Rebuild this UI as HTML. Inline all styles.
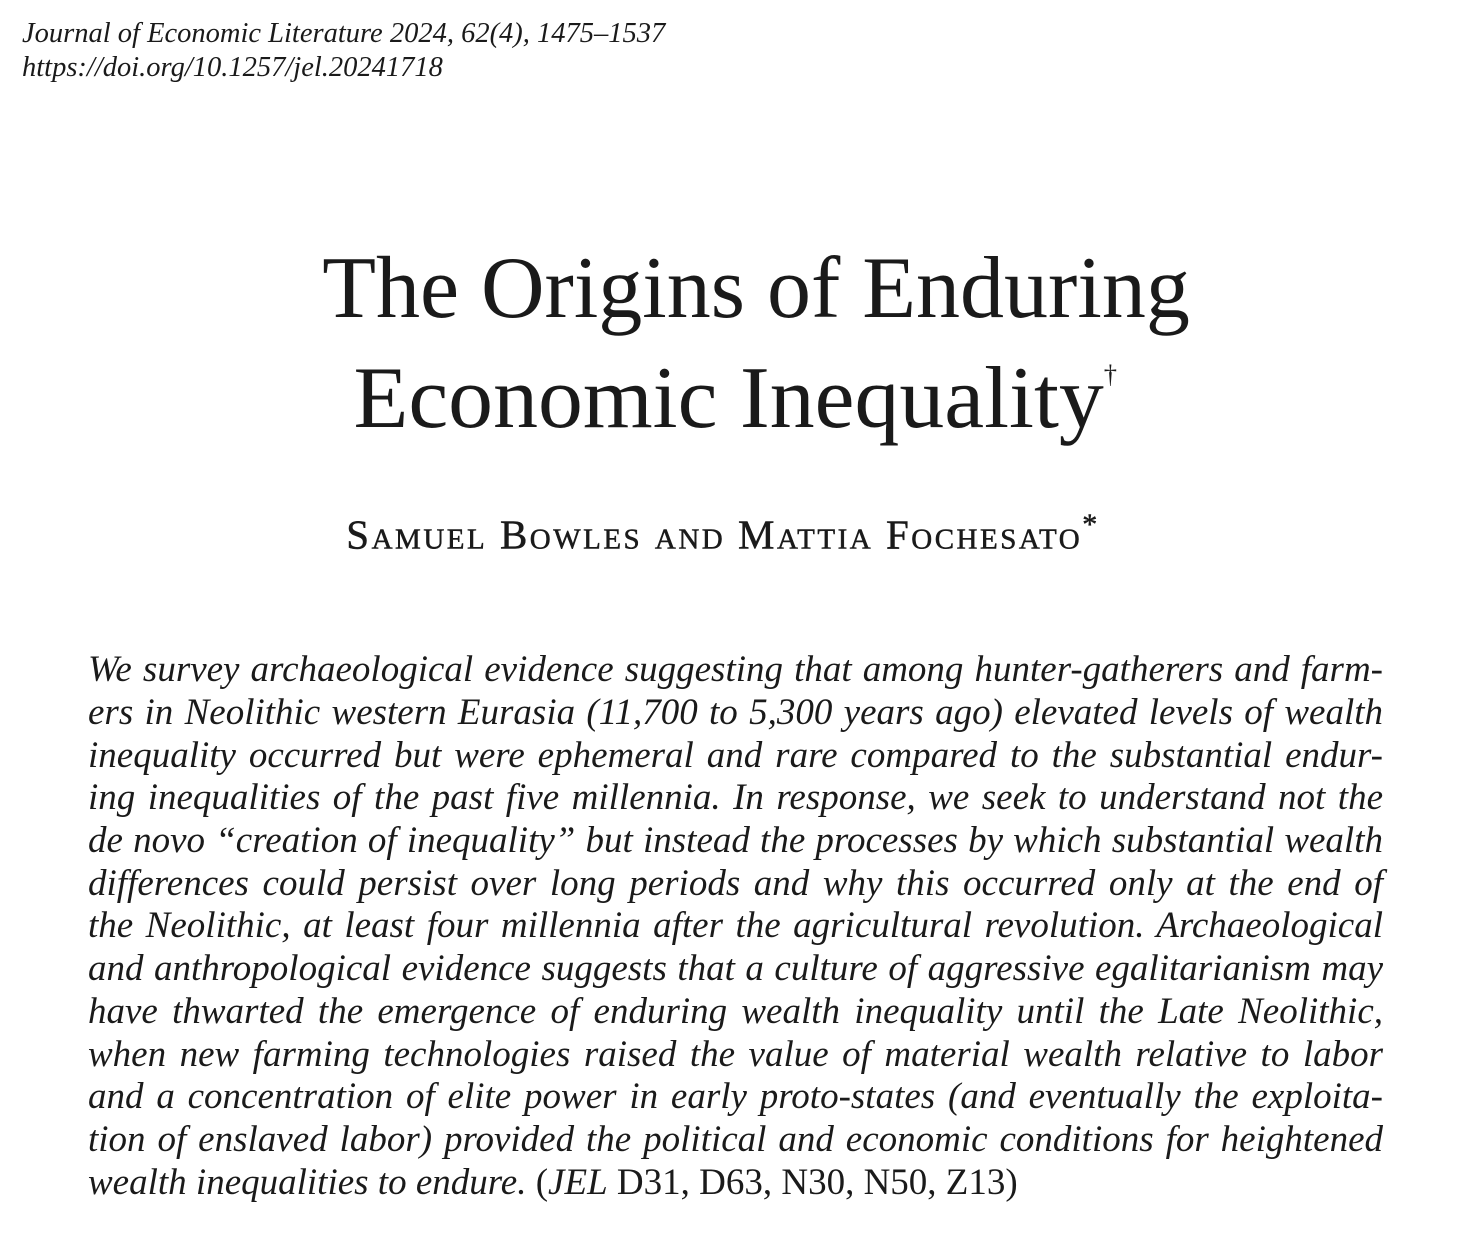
<!DOCTYPE html>
<html><head><meta charset="utf-8">
<style>
html,body{margin:0;padding:0;background:#fff;}
body{width:1470px;height:1234px;position:relative;overflow:hidden;color:#1a1a1a;font-family:"Liberation Serif",serif;}
.hdr{position:absolute;left:22px;font-style:italic;font-size:28.5px;line-height:32px;white-space:nowrap;}
.title{position:absolute;left:0;width:1470px;text-align:center;font-size:88px;line-height:90px;white-space:nowrap;}
.title span{display:inline-block;transform-origin:center;}
.auth{position:absolute;left:0;width:1446px;padding-left:0;text-align:center;font-size:41px;font-variant:small-caps;letter-spacing:2.5px;white-space:nowrap;-webkit-text-stroke:0.5px #1a1a1a;}
.ab{position:absolute;left:88px;width:1295px;font-style:italic;font-size:37px;line-height:42px;text-align:justify;text-align-last:justify;white-space:nowrap;}
.ab.last{text-align-last:left;}
.up{font-style:normal;}
</style></head><body>
<div class="hdr" style="top:18px">Journal of Economic Literature 2024, 62(4), 1475–1537</div>
<div class="hdr" style="top:52px">https://doi.org/10.1257/jel.20241718</div>

<div class="title" style="top:244px;left:21px"><span style="transform:scaleX(1.0)">The Origins of Enduring</span></div>
<div class="title" style="top:330px"><span style="transform:scaleX(1.02)">Economic Inequality<sup style="font-size:26px;vertical-align:44px">†</sup></span></div>

<div class="auth" style="top:508px">Samuel Bowles and Mattia Fochesato<sup style="font-size:30px">*</sup></div>

<div>
<div class="ab" style="top:649px">We survey archaeological evidence suggesting that among hunter-gatherers and farm-</div>
<div class="ab" style="top:692px">ers in Neolithic western Eurasia (11,700 to 5,300 years ago) elevated levels of wealth</div>
<div class="ab" style="top:735px">inequality occurred but were ephemeral and rare compared to the substantial endur-</div>
<div class="ab" style="top:777px">ing inequalities of the past five millennia. In response, we seek to understand not the</div>
<div class="ab" style="top:820px">de novo “creation of inequality” but instead the processes by which substantial wealth</div>
<div class="ab" style="top:863px">differences could persist over long periods and why this occurred only at the end of</div>
<div class="ab" style="top:905px">the Neolithic, at least four millennia after the agricultural revolution. Archaeological</div>
<div class="ab" style="top:948px">and anthropological evidence suggests that a culture of aggressive egalitarianism may</div>
<div class="ab" style="top:991px">have thwarted the emergence of enduring wealth inequality until the Late Neolithic,</div>
<div class="ab" style="top:1034px">when new farming technologies raised the value of material wealth relative to labor</div>
<div class="ab" style="top:1076px">and a concentration of elite power in early proto-states (and eventually the exploita-</div>
<div class="ab" style="top:1119px">tion of enslaved labor) provided the political and economic conditions for heightened</div>
<div class="ab last" style="top:1162px">wealth inequalities to endure. <span class="up">(</span>JEL<span class="up"> D31, D63, N30, N50, Z13)</span></div>
</div>
</body></html>
